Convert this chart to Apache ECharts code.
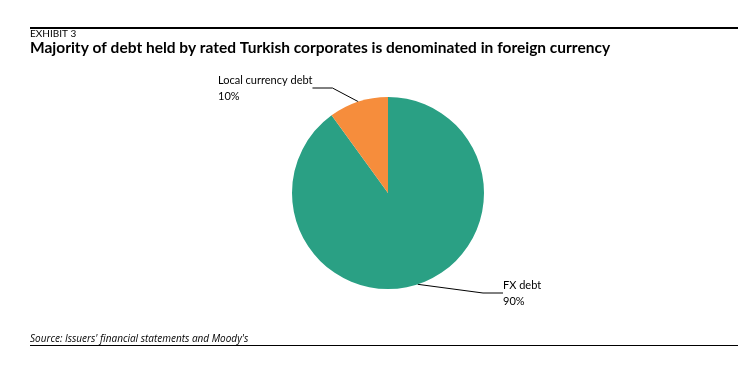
<!DOCTYPE html>
<html><head><meta charset="utf-8">
<script src="https://cdn.jsdelivr.net/npm/echarts@6/dist/echarts.min.js"></script>
<style>html,body{margin:0;padding:0;background:#fff}#c{width:752px;height:374px}</style>
</head><body><div id="c"></div>
<script>
const categories = ['FX debt', 'Local currency debt'];
const values = [90, 10];
const colors = ['#2aa084', '#f68d3c'];
const F = 'Lato, "Open Sans", sans-serif';
const chart = echarts.init(document.getElementById('c'));
chart.setOption({
  animation: false,
  graphic: [
    {type:'rect', shape:{x:30,y:27,width:708,height:2}, style:{fill:'#000'}},
    {type:'text', x:30, y:34, style:{text:'EXHIBIT 3', font:'10px '+F, fill:'#000', verticalAlign:'middle'}},
    {type:'text', x:30, y:48, style:{text:'Majority of debt held by rated Turkish corporates is denominated in foreign currency', font:'bold 15.5px '+F, fill:'#000', verticalAlign:'middle'}},
    {type:'text', x:30, y:339, style:{text:"Source: Issuers' financial statements and Moody's", font:'italic 10px "Open Sans", sans-serif', fill:'#000', verticalAlign:'middle'}},
    {type:'rect', shape:{x:30,y:345,width:708,height:1}, style:{fill:'#000'}}
  ],
  series: [{
    type:'pie',
    center:[388,193],
    radius:96,
    startAngle:90,
    clockwise:true,
    data: categories.map((n,i)=>({name:n, value:values[i], itemStyle:{color:colors[i]}})),
    label:{show:true, formatter: p => p.name + '\n' + p.value + '%', color:'#000', fontFamily:F, fontSize:11, lineHeight:16, align:'left'},
    labelLine:{show:true, lineStyle:{color:'#000', width:1}, length:20, length2:20},
    labelLayout: p => p.dataIndex === 1 ? {x:218, y:88, align:'left', verticalAlign:'middle'} : {x:503, y:293, align:'left', verticalAlign:'middle'}
  }]
});
</script></body></html>
